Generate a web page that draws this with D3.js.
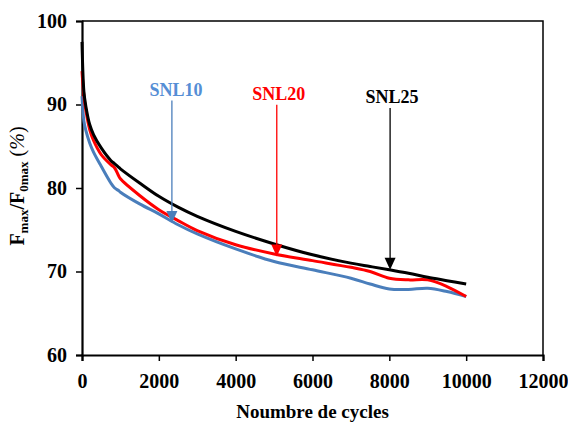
<!DOCTYPE html>
<html>
<head>
<meta charset="utf-8">
<script src="https://cdn.jsdelivr.net/npm/d3@7"></script>
<style>
  body { margin: 0; background: #fff; }
  svg { font-family: "Liberation Serif", "Times New Roman", serif; }
</style>
</head>
<body>
<div class="chart"></div>
<script>
// cycles
const cycles = [0, 50, 100, 200, 300, 500, 750, 850, 950, 1000, 1500, 2000, 2500, 3000, 4000, 5000, 6000, 7000, 7500, 8000, 8500, 9000, 9500, 10000]
// Fmax/F0max (%) for each sample
const snl25 = [97.5, 91.5, 89.8, 87.6, 86.4, 84.8, 83.3, 82.9, 82.5, 82.3, 80.6, 79.0, 77.7, 76.6, 74.8, 73.3, 72.0, 71.0, 70.6, 70.2, 69.8, 69.3, 68.9, 68.5]
const snl20 = [94.0, 91.0, 89.3, 87.0, 85.7, 84.0, 82.8, 82.4, 81.5, 81.1, 79.1, 77.4, 76.1, 74.9, 73.2, 72.1, 71.3, 70.5, 70.0, 69.2, 69.0, 69.0, 68.2, 67.0]
const snl10 = [91.0, 88.0, 86.9, 85.4, 84.3, 82.6, 80.6, 80.0, 79.7, 79.5, 78.1, 76.9, 75.6, 74.5, 72.7, 71.2, 70.2, 69.2, 68.5, 67.9, 67.85, 68.0, 67.6, 67.0]

const xTicks = [0, 2000, 4000, 6000, 8000, 10000, 12000]
const yTicks = [60, 70, 80, 90, 100]

// arrow annotations: name, cycle of the arrow, value at the tip, value of the label
const annoNames = ["SNL10", "SNL20", "SNL25"]
const annoCycles = [2340, 5070, 8020]
const annoTip = [75.8, 71.8, 70.2]
const annoLabel = [91.8, 91.3, 90.9]

const colors = {SNL10: "#4A7EBB", SNL20: "#FF0000", SNL25: "#000000"}
const textColors = {SNL10: "#558ED5", SNL20: "#FF0000", SNL25: "#000000"}

const margin = {top: 21, right: 25, bottom: 71, left: 82},
  width = 568 - margin.left - margin.right,
  height = 426 - margin.top - margin.bottom;

const svg = d3.select(".chart")
  .append("svg")
  .attr("width", 568)
  .attr("height", 426)
  .append("g")
  .attr("transform", `translate(${margin.left},${margin.top})`);

const x = d3.scaleLinear().domain([0, 12000]).range([0, width])
const y = d3.scaleLinear().domain([60, 100]).range([height, 0])

// frame (top and right)
svg.append("path")
  .attr("d", `M0,0H${width}V${height}`)
  .attr("fill", "none")
  .attr("stroke", "black")
  .attr("stroke-width", 1.5)

// axes
const xAxis = svg.append("g")
  .attr("transform", `translate(0,${height})`)
  .call(d3.axisBottom(x).tickValues(xTicks).tickSize(6).tickPadding(9).tickFormat(d3.format("d")))
const yAxis = svg.append("g")
  .call(d3.axisLeft(y).tickValues(yTicks).tickSize(6).tickPadding(9))

for (const ax of [xAxis, yAxis]) {
  ax.select(".domain").attr("stroke-width", 2.2)
  ax.selectAll(".tick line").attr("stroke-width", 1.5)
  ax.selectAll("text")
    .attr("font-family", "Liberation Serif, Times New Roman, serif")
    .attr("font-weight", "bold")
    .attr("font-size", "20px")
    .attr("fill", "black")
}
xAxis.selectAll("text").attr("dy", "0.9em")

// axis titles
svg.append("text")
  .attr("x", width / 2)
  .attr("y", height + 63)
  .attr("text-anchor", "middle")
  .attr("font-weight", "bold")
  .attr("font-size", "19px")
  .text("Noumbre de cycles")

const yTitle = svg.append("text")
  .attr("transform", `translate(${-58},${height / 2 - 2}) rotate(-90)`)
  .attr("text-anchor", "middle")
  .attr("font-weight", "bold")
  .attr("font-size", "20px")
yTitle.append("tspan").text("F")
yTitle.append("tspan").attr("font-size", "13px").attr("dy", 4).text("max")
yTitle.append("tspan").attr("dy", -4).text("/F")
yTitle.append("tspan").attr("font-size", "13px").attr("dy", 4).text("0max")
yTitle.append("tspan").attr("dy", -4).attr("font-weight", "normal").text(" (")
yTitle.append("tspan").attr("font-style", "italic").attr("font-weight", "normal").text("%")
yTitle.append("tspan").attr("font-weight", "normal").text(")")

// curves
const series = [
  {key: "SNL10", values: snl10},
  {key: "SNL20", values: snl20},
  {key: "SNL25", values: snl25}
]
const line = d3.line()
  .x((d, i) => x(cycles[i]))
  .y(d => y(d))
  .curve(d3.curveCatmullRom.alpha(0.5))

svg.append("g")
  .selectAll("path")
  .data(series)
  .join("path")
  .attr("d", d => line(d.values))
  .attr("fill", "none")
  .attr("stroke", d => colors[d.key])
  .attr("stroke-width", 3)

// arrows and labels
const anno = svg.append("g")
  .selectAll("g")
  .data(annoNames)
  .join("g")

anno.append("text")
  .attr("x", (d, i) => x(annoCycles[i]) + (i == 0 ? 4 : 2))
  .attr("y", (d, i) => y(annoLabel[i]))
  .attr("dy", "0.35em")
  .attr("text-anchor", "middle")
  .attr("font-weight", "bold")
  .attr("font-size", "18px")
  .attr("fill", d => textColors[d])
  .text(d => d)

anno.append("line")
  .attr("x1", (d, i) => x(annoCycles[i]))
  .attr("x2", (d, i) => x(annoCycles[i]))
  .attr("y1", (d, i) => y(annoLabel[i]) + 11)
  .attr("y2", (d, i) => y(annoTip[i]) - 10)
  .attr("stroke", d => colors[d])
  .attr("stroke-width", 1.3)

anno.append("path")
  .attr("d", (d, i) => {
    const tx = x(annoCycles[i]), ty = y(annoTip[i])
    return `M${tx - 5.5},${ty - 12}L${tx + 5.5},${ty - 12}L${tx},${ty}Z`
  })
  .attr("fill", d => colors[d])
</script>
</body>
</html>
